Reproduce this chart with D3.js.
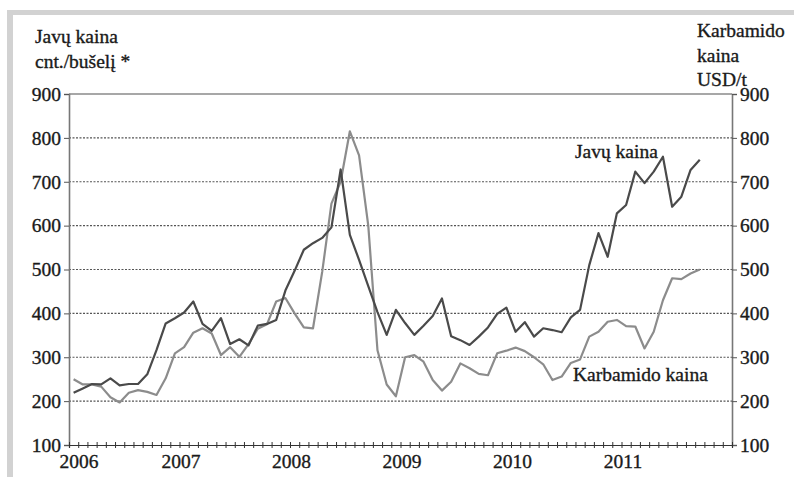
<!DOCTYPE html>
<html><head><meta charset="utf-8">
<script src="https://cdn.jsdelivr.net/npm/d3@7"></script>
<style>
html,body{margin:0;padding:0;background:#fff;}
svg{display:block;}
text{font-family:"Liberation Serif","Times New Roman",serif;fill:#1a1a1a;stroke:#1a1a1a;stroke-width:0.35px;}
</style></head>
<body>
<script>
// ---- data (monthly, Jan 2006 – Sep 2011) ----
const years = ["2006","2007","2008","2009","2010","2011"];
const yTicks = [100,200,300,400,500,600,700,800,900];
const javuKaina = [219,229,239,238,252,236,239,239,261,316,377,389,
  402,427,376,360,389,330,341,327,372,376,385,452,
  497,545,560,572,596,728,579,522,462,403,351,408,
  378,351,372,394,434,348,339,328,347,368,399,413,
  358,380,347,366,362,357,391,408,510,583,529,628,
  647,723,697,723,757,643,666,727,750];
const karbamidoKaina = [250,238,238,233,209,197,219,225,221,214,252,309,
  323,356,366,354,305,323,301,330,365,375,427,435,
  400,368,366,495,650,700,815,760,600,316,238,211,
  300,305,290,248,224,244,286,275,262,259,309,315,
  322,314,300,284,248,256,287,295,347,358,381,385,
  371,370,320,358,430,480,478,491,500];
const leftTitle = ["Javų kaina","cnt./bušelį *"];
const rightTitle = ["Karbamido","kaina","USD/t"];
const seriesLabels = ["Javų kaina","Karbamido kaina"];

const W = 794, H = 477;
const svg = d3.select("body").append("svg").attr("width",W).attr("height",H);

// frame
svg.append("rect").attr("x",7).attr("y",10).attr("width",W-7).attr("height",5).attr("fill","#d2d2d2");
svg.append("rect").attr("x",7).attr("y",10).attr("width",6).attr("height",H-10).attr("fill","#d2d2d2");

const L = 69, R = 732, T = 94, B = 445;
const nMonths = years.length*12;
const x = d3.scaleLinear().domain([0,nMonths]).range([L,R]);
const y = d3.scaleLinear().domain([100,900]).range([B,T]);

// grid
svg.append("g").selectAll("line").data(yTicks.filter(v=>v>100 && v<900)).join("line")
  .attr("x1",L).attr("x2",R).attr("y1",d=>y(d)).attr("y2",d=>y(d))
  .attr("stroke","#555").attr("stroke-width",1.1).attr("stroke-dasharray","2,1.5");
svg.append("line").attr("x1",L).attr("x2",R).attr("y1",y(900)).attr("y2",y(900))
  .attr("stroke","#8a8a8a").attr("stroke-width",1.5);

// axes
const fs = "19.5px";
const gl = svg.append("g").attr("transform",`translate(${L},0)`)
  .call(d3.axisLeft(y).tickValues(yTicks).tickSize(5).tickPadding(3));
const gr = svg.append("g").attr("transform",`translate(${R},0)`)
  .call(d3.axisRight(y).tickValues(yTicks).tickSize(5).tickPadding(3));
[gl,gr].forEach(g=>{
  g.select(".domain").attr("stroke","#777").attr("stroke-width",1.6);
  g.selectAll(".tick line").attr("stroke","#555");
  g.selectAll(".tick text").style("font-size",fs).attr("fill","#1a1a1a")
   .style("font-family","Liberation Serif");
});
const gb = svg.append("g").attr("transform",`translate(0,${B})`)
  .call(d3.axisBottom(x).tickValues(d3.range(0,nMonths+1)).tickSize(3).tickFormat(""));
gb.select(".domain").attr("stroke","#333").attr("stroke-width",1.2);
gb.selectAll(".tick line").attr("y1",-3).attr("y2",3).attr("stroke","#333").attr("stroke-width",1);

// year labels
svg.append("g").selectAll("text").data(years).join("text")
  .attr("x",(d,i)=>x(i*12)+ (i===0?10:1.5))
  .attr("y",468).attr("text-anchor","middle").style("font-size",fs).text(d=>d);

// lines
const line = d3.line().x((d,i)=>x(i+0.5)).y(d=>y(d));
svg.append("path").datum(karbamidoKaina).attr("d",line).attr("fill","none")
  .attr("stroke","#8c8c8c").attr("stroke-width",2.2).attr("stroke-linejoin","round");
svg.append("path").datum(javuKaina).attr("d",line).attr("fill","none")
  .attr("stroke","#4a4a4a").attr("stroke-width",2.2).attr("stroke-linejoin","round");

// titles
svg.append("g").selectAll("text").data(leftTitle).join("text")
  .attr("x",35).attr("y",(d,i)=>43+i*25).style("font-size",fs).text(d=>d);
svg.append("g").selectAll("text").data(rightTitle).join("text")
  .attr("x",697).attr("y",(d,i)=>[37,62,86][i]).style("font-size",fs).text(d=>d);

// series labels
svg.append("text").attr("x",575).attr("y",158).style("font-size",fs).text(seriesLabels[0]);
svg.append("text").attr("x",573).attr("y",381).style("font-size",fs).text(seriesLabels[1]);
</script>
</body></html>
